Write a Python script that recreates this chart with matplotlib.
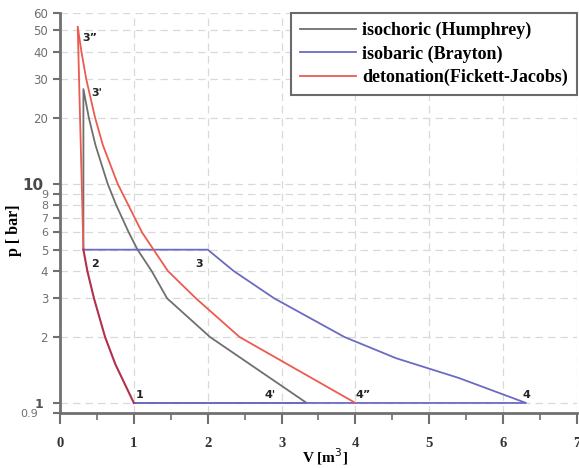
import matplotlib
matplotlib.use("Agg")
import matplotlib.pyplot as plt
from matplotlib.ticker import FixedLocator, NullLocator

# ---- data ----
# shared isentropic compression 1 -> 2
comp_V = [1.00, 0.75, 0.61, 0.46, 0.37, 0.317]
comp_p = [1.0, 1.5, 2.0, 3.0, 4.0, 5.0]

# Humphrey (isochoric): 2 -> 3' -> 4' -> 1
hum_V = [0.317, 0.317, 0.39, 0.48, 0.645, 0.76, 0.93, 1.05, 1.24, 1.45, 2.03, 3.34, 1.00]
hum_p = [5.0, 27.0, 20.0, 15.0, 10.0, 8.0, 6.0, 5.0, 4.0, 3.0, 2.0, 1.0, 1.0]

# Brayton (isobaric): 2 -> 3 -> 4 -> 1
bra_V = [0.317, 2.00, 2.35, 2.90, 3.85, 4.55, 5.40, 6.31, 1.00]
bra_p = [5.0, 5.0, 4.0, 3.0, 2.0, 1.6, 1.3, 1.0, 1.0]

# Fickett-Jacobs (detonation): 2 -> 3'' -> 4''
det_V = [0.317, 0.24, 0.29, 0.355, 0.475, 0.58, 0.78, 1.11, 1.46, 1.84, 2.43, 4.00]
det_p = [5.0, 52.0, 40.0, 30.0, 20.0, 15.0, 10.0, 6.0, 4.0, 3.0, 2.0, 1.0]

labels = ["isochoric (Humphrey)", "isobaric (Brayton)", "detonation(Fickett-Jacobs)"]

point_names = ["1", "2", "3", "3'", "3\u201d", "4'", "4\u201d", "4"]
point_V = [1.08, 0.47, 1.89, 0.50, 0.40, 2.84, 4.10, 6.31]
point_p = [1.09, 4.3, 4.3, 26.0, 46.0, 1.09, 1.09, 1.09]

y_ticks = [0.9, 1, 2, 3, 4, 5, 6, 7, 8, 9, 10, 20, 30, 40, 50, 60]
y_ticklabels = ["0.9", "1", "2", "3", "4", "5", "6", "7", "8", "9", "10", "20", "30", "40", "50", "60"]
x_ticks = [0, 1, 2, 3, 4, 5, 6, 7]

# ---- figure ----
fig = plt.figure(figsize=(5.79, 4.68), dpi=100)
ax = fig.add_axes([60/579, 55/468, 517/579, 400/468])

c_gray = "#6f6f6f"
c_blue = "#6b6bc4"
c_red = "#ec5a50"
c_dred = "#b2304a"

ax.plot(hum_V, hum_p, color=c_gray, lw=1.3, label=labels[0], zorder=3)
ax.plot(bra_V, bra_p, color=c_blue, lw=1.3, label=labels[1], zorder=4)
ax.plot(det_V, det_p, color=c_red, lw=1.3, label=labels[2], zorder=5)
ax.plot(comp_V, comp_p, color=c_dred, lw=1.5, zorder=6)

ax.set_yscale("log")
ax.set_xlim(0, 7)
ax.set_ylim(0.9, 60)

ax.yaxis.set_major_locator(FixedLocator(y_ticks))
ax.yaxis.set_minor_locator(NullLocator())
ax.set_yticklabels(y_ticklabels)
ax.set_xticks(x_ticks)
ax.set_xticks([0.5, 1.5, 2.5, 3.5, 4.5, 5.5, 6.5], minor=True)

ax.tick_params(axis="x", which="major", length=8, width=1.5, color="#707070", pad=9)
ax.tick_params(axis="x", which="minor", length=5, width=1.2, color="#707070")
ax.tick_params(axis="y", which="major", length=5, width=1.5, color="#707070", pad=3.6)

for lbl, v in zip(ax.get_yticklabels(), y_ticks):
    lbl.set_color("#707070")
    if v == 10:
        lbl.set_fontsize(11)
        lbl.set_fontweight("bold")
        lbl.set_color("#4a4a4a")
    elif v == 1:
        lbl.set_fontsize(9)
        lbl.set_fontweight("bold")
        lbl.set_color("#555555")
    elif v in (6, 7, 8, 9, 0.9):
        lbl.set_fontsize(8)
    else:
        lbl.set_fontsize(8.5)

for t, v in zip(ax.yaxis.get_major_ticks(), y_ticks):
    if v == 10:
        t.tick1line.set_markersize(8)
        t.set_pad(7.2)
    elif v == 1:
        t.tick1line.set_markersize(8)
        t.set_pad(7.0)
    elif v == 0.9:
        t.tick1line.set_markersize(8)
        t.set_pad(10.5)

for lbl in ax.get_xticklabels():
    lbl.set_fontfamily("Liberation Serif")
    lbl.set_fontweight("bold")
    lbl.set_fontsize(10.5)
    lbl.set_color("#333333")

for s in ("top", "right"):
    ax.spines[s].set_visible(False)
for s in ("left", "bottom"):
    ax.spines[s].set_color("#707070")
    ax.spines[s].set_linewidth(2)

ax.grid(True, which="major", ls=(0, (6, 4)), color="#d9d9d9", lw=0.9)
ax.set_axisbelow(True)

ax.set_xlabel("V [m$^3$]", fontfamily="Liberation Serif", fontweight="bold", fontsize=11)
ax.xaxis.set_label_coords((325 - 60) / 517, -(446 - 413) / 400)
ax.set_ylabel("p [ bar]", fontfamily="Liberation Serif", fontweight="bold", fontsize=11.5)
ax.yaxis.set_label_coords(-(60 - 22) / 517, (413 - 230) / 400)

for n, v, p in zip(point_names, point_V, point_p):
    ax.text(v, p, n, fontsize=8, fontweight="bold", color="#222222", ha="center", va="center", zorder=7)

leg = ax.legend(loc="upper right", bbox_to_anchor=(1.0, 1.0), borderaxespad=0.0,
                frameon=True, fancybox=False, framealpha=1.0,
                edgecolor="#6a6a6a", handlelength=3.1, handletextpad=0.35,
                borderpad=0.5, labelspacing=0.33,
                prop={"family": "Liberation Serif", "weight": "bold", "size": 13})
leg.get_frame().set_linewidth(1.5)

fig.savefig("out.png", dpi=100)
